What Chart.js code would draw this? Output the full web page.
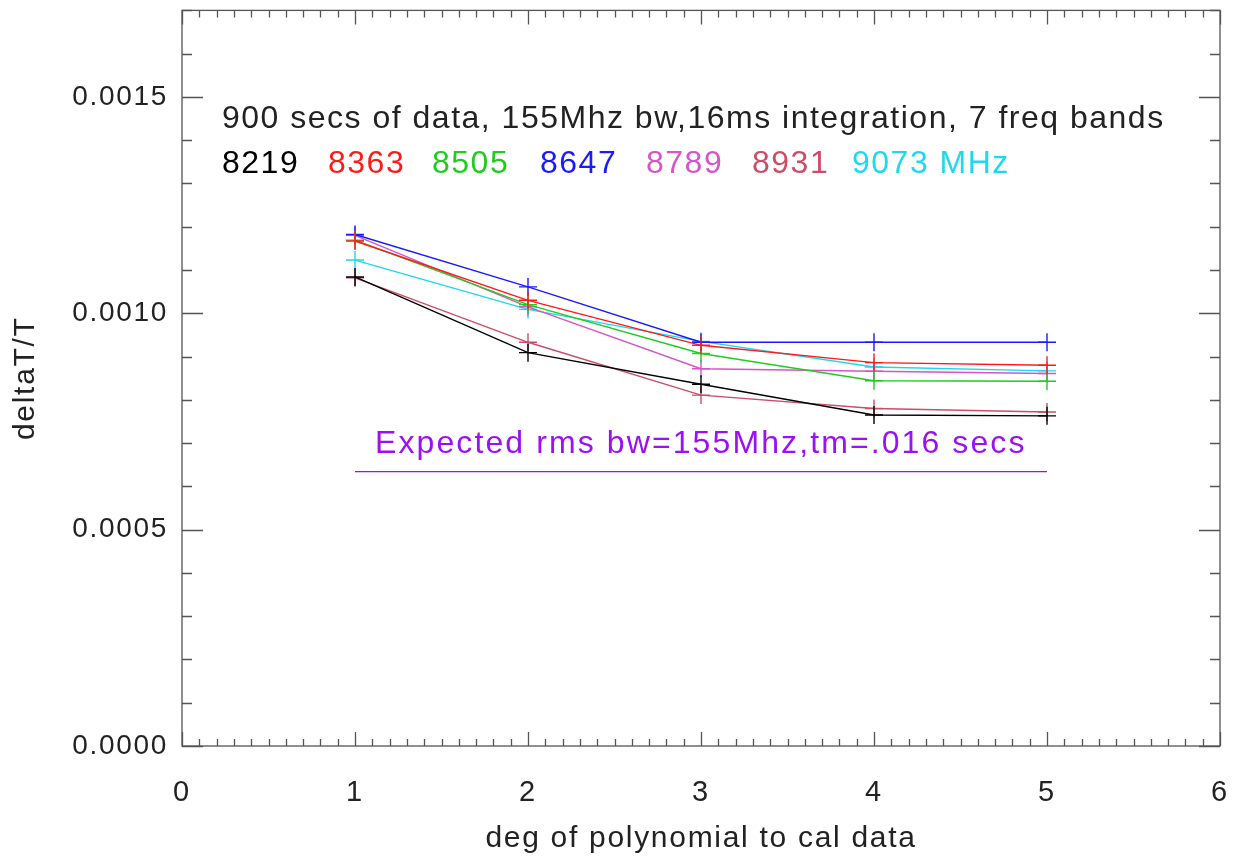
<!DOCTYPE html>
<html>
<head>
<meta charset="utf-8">
<script src="https://cdn.jsdelivr.net/npm/chart.js@4/dist/chart.umd.min.js"></script>
<style>
  html, body { margin: 0; padding: 0; background: #fff; }
  #wrap { width: 1244px; height: 861px; }
</style>
</head>
<body>
<div id="wrap"><canvas id="grafico"></canvas></div>
<script>
    // datos
    const grados = [1, 2, 3, 4, 5];
    const bandas = ['8219', '8363', '8505', '8647', '8789', '8931', '9073'];
    const colores = ['#000000', '#ff1a1a', '#1fcc1f', '#1a1aff', '#d655c8', '#cc4d66', '#1ed8ee'];
    const f8219 = [0.001084, 0.000909, 0.000836, 0.000765, 0.000763];
    const f8363 = [0.001167, 0.001030, 0.000926, 0.000886, 0.000880];
    const f8505 = [0.001169, 0.001020, 0.000907, 0.000844, 0.000843];
    const f8647 = [0.001182, 0.001061, 0.000933, 0.000933, 0.000933];
    const f8789 = [0.001180, 0.001015, 0.000872, 0.000866, 0.000861];
    const f8931 = [0.001082, 0.000933, 0.000811, 0.000780, 0.000772];
    const f9073 = [0.001123, 0.001009, 0.000935, 0.000876, 0.000867];
    const series = [f8219, f8363, f8505, f8647, f8789, f8931, f9073];
    const rmsEsperado = 0.000634;
    const rmsDesde = 1, rmsHasta = 5;
    const xTicks = [0, 1, 2, 3, 4, 5, 6];
    const yTicks = [0, 0.0005, 0.0010, 0.0015];

    const fuente = "'Liberation Sans', Arial, Helvetica, sans-serif";
    const espaciado = '1.7px';

    const datasets = series.map((vals, i) => ({
        label: bandas[i],
        data: grados.map((g, j) => ({ x: g, y: vals[j] })),
        borderColor: colores[i],
        backgroundColor: colores[i],
        borderWidth: 1.4,
        pointStyle: 'cross',
        pointRadius: 9,
        pointBorderWidth: 1.4,
        fill: false,
        tension: 0
    }));
    datasets.push({
        label: 'rms',
        data: [{ x: rmsDesde, y: rmsEsperado }, { x: rmsHasta, y: rmsEsperado }],
        borderColor: '#9b10f5',
        borderWidth: 1.4,
        pointRadius: 0,
        fill: false
    });

    // letras algo mas separadas, como en la figura original
    const espaciadoPlugin = {
        id: 'espaciado',
        beforeLayout(chart) { chart.ctx.letterSpacing = espaciado; },
        beforeDraw(chart) { chart.ctx.letterSpacing = espaciado; }
    };

    // marco, ticks hacia adentro y textos
    const marcoPlugin = {
        id: 'marco',
        afterDraw(chart) {
            const ctx = chart.ctx;
            const a = chart.chartArea;
            const sx = chart.scales.x, sy = chart.scales.y;
            ctx.save();
            ctx.strokeStyle = '#555';
            ctx.lineWidth = 1.3;
            ctx.strokeRect(a.left, a.top, a.right - a.left, a.bottom - a.top);
            ctx.beginPath();
            for (let i = 0; i <= 60; i++) {
                const px = Math.round(sx.getPixelForValue(i / 10)) + 0.5;
                const len = i % 10 === 0 ? 14 : 7;
                ctx.moveTo(px, a.bottom); ctx.lineTo(px, a.bottom - len);
                ctx.moveTo(px, a.top); ctx.lineTo(px, a.top + len);
            }
            for (let i = 0; i <= 17; i++) {
                const py = Math.round(sy.getPixelForValue(i * 0.0001)) + 0.5;
                const len = i % 5 === 0 ? 21 : 10;
                ctx.moveTo(a.left, py); ctx.lineTo(a.left + len, py);
                ctx.moveTo(a.right, py); ctx.lineTo(a.right - len, py);
            }
            ctx.stroke();

            ctx.textBaseline = 'alphabetic';
            ctx.textAlign = 'left';
            ctx.font = '32px ' + fuente;
            ctx.letterSpacing = '1.5px';
            ctx.fillStyle = '#222';
            ctx.fillText('900 secs of data, 155Mhz bw,16ms integration, 7 freq bands', 222, 128);
            const xs = [222, 328, 432, 540, 646, 752, 852];
            bandas.forEach((b, i) => {
                ctx.fillStyle = colores[i];
                ctx.fillText(i === bandas.length - 1 ? b + ' MHz' : b, xs[i], 173);
            });
            ctx.fillStyle = '#9b10f5';
            ctx.letterSpacing = '2.1px';
            ctx.textAlign = 'left';
            ctx.fillText('Expected rms bw=155Mhz,tm=.016 secs', 375, 453);
            ctx.restore();
        }
    };

    new Chart(document.getElementById('grafico'), {
        type: 'line',
        data: { datasets: datasets },
        options: {
            responsive: true,
            maintainAspectRatio: false,
            animation: false,
            layout: { padding: { top: 10, right: 24, left: 0, bottom: 0 } },
            plugins: {
                legend: { display: false },
                tooltip: { enabled: false }
            },
            scales: {
                x: {
                    type: 'linear',
                    min: 0, max: 6,
                    afterFit: s => { s.height = 115; s.paddingLeft = 0; s.paddingRight = 0; },
                    afterBuildTicks: s => { s.ticks = xTicks.map(v => ({ value: v })); },
                    grid: { display: false, drawTicks: false },
                    border: { display: false },
                    ticks: {
                        padding: 30,
                        color: '#222',
                        font: { family: fuente, size: 29 },
                        callback: v => String(v)
                    },
                    title: {
                        display: true,
                        text: 'deg of polynomial to cal data',
                        color: '#222',
                        font: { family: fuente, size: 30 },
                        padding: { top: 0, bottom: 4 }
                    }
                },
                y: {
                    type: 'linear',
                    min: 0, max: 0.0017,
                    afterFit: s => { s.width = 182; s.paddingTop = 0; s.paddingBottom = 0; },
                    afterBuildTicks: s => { s.ticks = yTicks.map(v => ({ value: v })); },
                    grid: { display: false, drawTicks: false },
                    border: { display: false },
                    ticks: {
                        padding: 14,
                        color: '#222',
                        font: { family: fuente, size: 28 },
                        callback: v => v.toFixed(4)
                    },
                    title: {
                        display: true,
                        text: 'deltaT/T',
                        color: '#222',
                        font: { family: fuente, size: 30 },
                        padding: { top: 8, bottom: 0 }
                    }
                }
            }
        },
        plugins: [espaciadoPlugin, marcoPlugin]
    });
</script>
</body>
</html>
